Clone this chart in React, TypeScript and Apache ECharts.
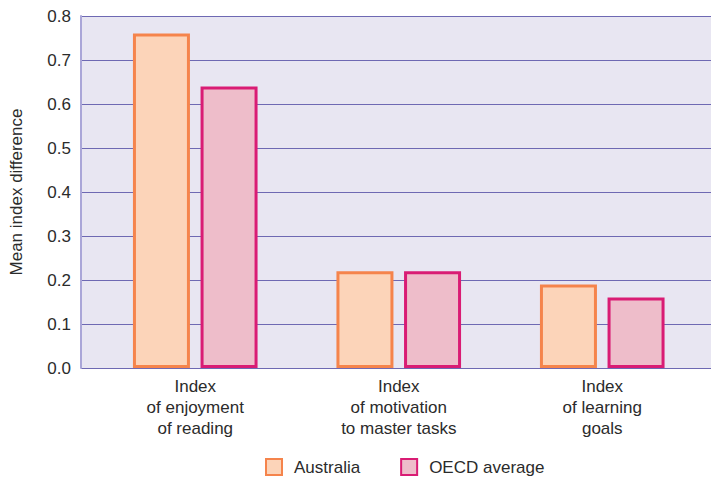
import React, { useEffect, useRef } from "react";
import * as echarts from "echarts";

const categories = [
  "Index\nof enjoyment\nof reading",
  "Index\nof motivation\nto master tasks",
  "Index\nof learning\ngoals",
];
const australia = [0.76, 0.22, 0.19];
const oecdAverage = [0.64, 0.22, 0.16];
const seriesNames = ["Australia", "OECD average"];

const FONT = "'Liberation Sans', Arial, Helvetica, sans-serif";
const TEXT = "#2b2b2b";
const GRIDLINE = "#6e69b3";

export default function App() {
  const ref = useRef<HTMLDivElement>(null);

  useEffect(() => {
    if (!ref.current) return;
    const chart = echarts.init(ref.current, null, { renderer: "svg" });
    chart.setOption({
      animation: false,
      backgroundColor: "#ffffff",
      textStyle: { fontFamily: FONT },
      legend: {
        data: seriesNames,
        left: 265,
        top: 458,
        padding: 0,
        icon: "rect",
        itemWidth: 16,
        itemHeight: 16,
        itemGap: 40,
        textStyle: { fontSize: 17, color: TEXT, fontFamily: FONT, padding: [0, 0, 0, 7] },
      },
      grid: [
        {
          left: 80,
          right: 0,
          top: 16,
          bottom: 111,
          show: true,
          backgroundColor: "#e8e6f2",
          borderWidth: 0,
        },
        { left: 93.5, right: 7, top: 16, bottom: 111 },
      ],
      xAxis: [
        {
          gridIndex: 0,
          type: "value",
          min: 0,
          max: 1,
          show: false,
        },
        {
          gridIndex: 1,
          type: "category",
          data: categories,
          axisLine: { show: false },
          axisTick: { show: false },
          axisLabel: {
            fontSize: 17,
            color: TEXT,
            lineHeight: 21,
            margin: 8,
            fontFamily: FONT,
          },
        },
      ],
      yAxis: [
        {
          gridIndex: 0,
          type: "value",
          min: 0,
          max: 0.8,
          interval: 0.1,
          name: "Mean index difference",
          nameLocation: "middle",
          nameGap: 56,
          nameTextStyle: { fontSize: 17, color: TEXT, fontFamily: FONT },
          axisLine: { show: true, lineStyle: { color: "#aaa6d8", width: 2 } },
          axisTick: { show: false },
          axisLabel: {
            fontSize: 17,
            color: TEXT,
            margin: 10,
            fontFamily: FONT,
            formatter: (v: number) => v.toFixed(1),
          },
          splitLine: { show: true, lineStyle: { color: GRIDLINE, width: 1.2 } },
        },
        {
          gridIndex: 1,
          type: "value",
          min: 0,
          max: 0.8,
          show: false,
        },
      ],
      series: [
        {
          name: seriesNames[0],
          type: "bar",
          xAxisIndex: 1,
          yAxisIndex: 1,
          data: australia,
          barWidth: 57,
          barGap: "18.6%",
          itemStyle: { color: "#fcd4b9", borderColor: "#f5844c", borderWidth: 3 },
        },
        {
          name: seriesNames[1],
          type: "bar",
          xAxisIndex: 1,
          yAxisIndex: 1,
          data: oecdAverage,
          barWidth: 57,
          barGap: "18.6%",
          itemStyle: { color: "#eebdca", borderColor: "#d91c74", borderWidth: 3 },
        },
      ],
    });
    return () => chart.dispose();
  }, []);

  return <div ref={ref} style={{ width: 711, height: 479, position: "absolute", left: 0, top: 0 }} />;
}
